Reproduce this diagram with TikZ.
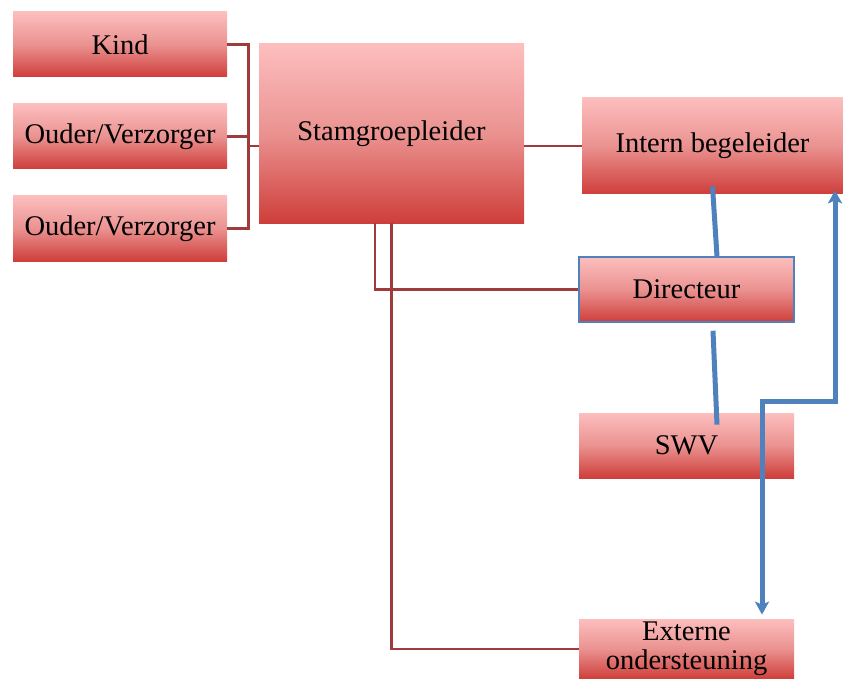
\documentclass[tikz,border=0pt]{standalone}
\usepackage{fontspec}
\setmainfont{Liberation Serif}
\usetikzlibrary{arrows.meta}

\definecolor{boxtop}{RGB}{253,190,190}
\definecolor{boxmid}{RGB}{234,146,144}
\definecolor{boxbot}{RGB}{206,62,58}
\definecolor{linkred}{RGB}{158,60,60}
\definecolor{flowblue}{RGB}{79,129,189}

\tikzset{every picture/.style={line width=0.75pt}}
\tikzset{
  rolbox/.style={rectangle, inner sep=0pt, top color=boxtop, bottom color=boxbot, middle color=boxmid,
    font=\fontsize{28.5}{29}\selectfont, align=center},
  link/.style={draw=linkred, line width=2.4pt},
  flow/.style={draw=flowblue, line width=5pt},
}

\begin{document}
\begin{tikzpicture}[x=1pt,y=1pt,yscale=-1,xscale=1]
\useasboundingbox (0,0) rectangle (843,679);

% Boxes
\node [rolbox, minimum width=214pt, minimum height=65pt] (kind) at (120,44.5) {Kind};
\node [rolbox, minimum width=214pt, minimum height=65pt] (ouder1) at (120,136.5) {Ouder/Verzorger};
\node [rolbox, minimum width=214pt, minimum height=65pt] (ouder2) at (120,228.5) {Ouder/Verzorger};
\node [rolbox, minimum width=265pt, minimum height=179pt] (stam) at (391.5,133.5) {Stamgroepleider};
\node [rolbox, minimum width=261pt, minimum height=96pt] (intern) at (712.5,146) {Intern begeleider};
\node [rolbox, minimum width=215pt, minimum height=65pt, draw=flowblue, line width=1.5pt] (dir) at (686.5,289.5) {Directeur};
\node [rolbox, minimum width=215pt, minimum height=65pt] (swv) at (686.5,445.5) {SWV};
\node [rolbox, minimum width=215pt, minimum height=60pt] (extern) at (686.5,649) {Externe\\ondersteuning};

% Red links
\draw [link] (kind.east) -- ++(21,0) |- (ouder2.east);
\draw [link] (ouder1.east) -- ++(21,0);
\draw [link] ([yshift=12.5pt]stam.west) -- ++(-11,0);
\draw [link] (stam.east |- intern.west) -- (intern.west);
\draw [link] ([xshift=-16.5pt]stam.south) |- (dir.west);
\draw [link] (stam.south) |- (extern.west);

% Blue links
\draw [flow] ([yshift=-8pt]intern.south) -- ([xshift=30.5pt]dir.north);
\draw [flow] ([xshift=26.5pt,yshift=8pt]dir.south) -- ([xshift=30.5pt,yshift=12pt]swv.north);
\coordinate (bend) at (835,401);
\draw [flow, {Stealth[length=13pt,width=14pt,inset=3pt]}-{Stealth[length=13pt,width=14pt,inset=3pt]}]
  ([xshift=75.5pt,yshift=-4pt]extern.north) |- (bend) -- ([xshift=122.5pt,yshift=-4pt]intern.south);

\end{tikzpicture}
\end{document}
